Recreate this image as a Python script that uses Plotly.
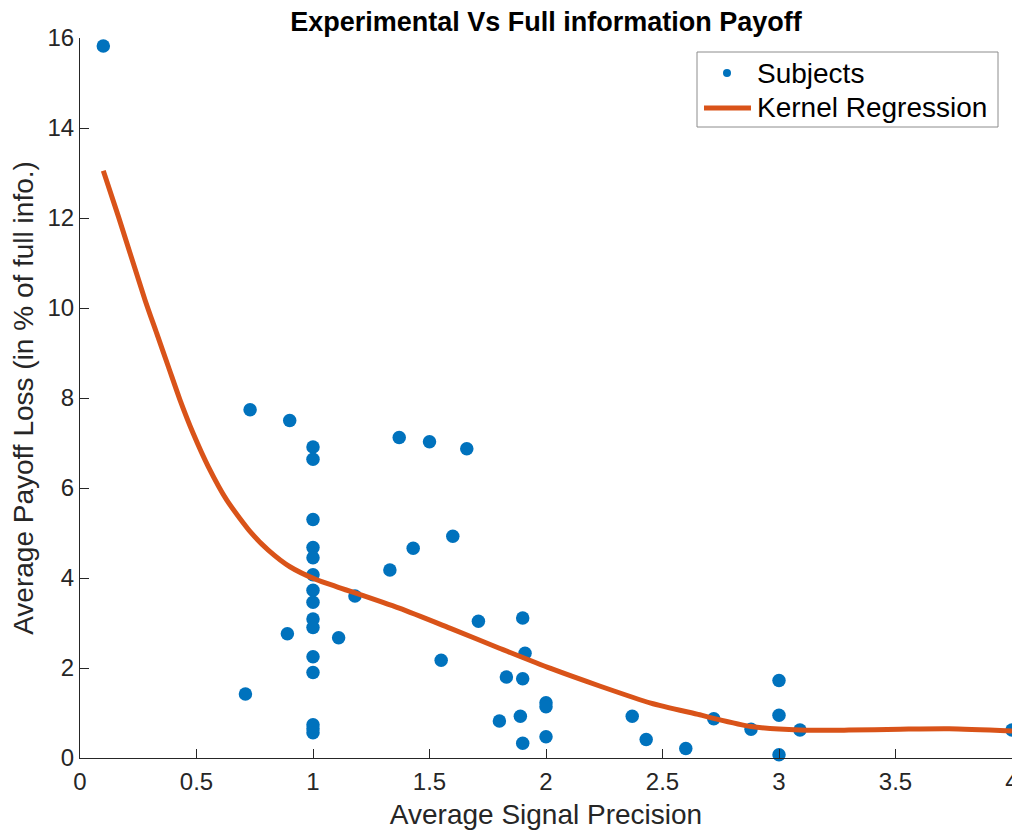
import plotly.graph_objects as go

subjects_x = [0.10, 0.71, 0.73, 0.89, 0.90,
              1.0, 1.0, 1.0, 1.0, 1.0, 1.0, 1.0, 1.0, 1.0, 1.0, 1.0, 1.0, 1.0, 1.0, 1.0,
              1.11, 1.18, 1.33, 1.37, 1.43, 1.50, 1.55, 1.60, 1.66, 1.71,
              1.80, 1.83, 1.89, 1.90, 1.90, 1.90, 1.91, 2.00, 2.00, 2.00,
              2.37, 2.43, 2.60, 2.72, 2.88, 3.00, 3.00, 3.00, 3.09, 4.00]
subjects_y = [15.82, 1.42, 7.74, 2.76, 7.50,
              6.91, 6.64, 5.30, 4.68, 4.45, 4.07, 3.73, 3.46, 3.09, 2.90, 2.25, 1.90, 0.74, 0.65, 0.56,
              2.67, 3.60, 4.18, 7.12, 4.66, 7.03, 2.17, 4.93, 6.87, 3.04,
              0.82, 1.80, 0.93, 3.11, 1.76, 0.33, 2.33, 1.23, 1.14, 0.47,
              0.93, 0.41, 0.21, 0.87, 0.64, 1.72, 0.95, 0.07, 0.62, 0.62]

kernel_x = [0.10, 0.165, 0.279, 0.329, 0.379, 0.429, 0.486, 0.551, 0.630, 0.737, 0.808,
            0.901, 1.016, 1.10, 1.37, 1.59, 1.80, 2.02, 2.23, 2.45, 2.66, 2.72, 2.88,
            3.09, 3.30, 3.52, 3.73, 4.00]
kernel_y = [13.05, 12.03, 10.18, 9.44, 8.70, 7.96, 7.21, 6.47, 5.73, 4.99, 4.62,
            4.25, 3.96, 3.81, 3.33, 2.88, 2.44, 1.99, 1.60, 1.22, 0.96, 0.88, 0.70,
            0.62, 0.62, 0.64, 0.65, 0.60]

x_ticks = [0, 0.5, 1, 1.5, 2, 2.5, 3, 3.5, 4]
x_tick_labels = ["0", "0.5", "1", "1.5", "2", "2.5", "3", "3.5", "4"]
y_ticks = [0, 2, 4, 6, 8, 10, 12, 14, 16]
legend_names = ["Subjects", "Kernel Regression"]

FONT = "Liberation Sans, Arial, Helvetica, sans-serif"
AX = "#262626"
BLUE = "#0072BD"
ORANGE = "#D95319"

# the page body adds an 8px offset, so the figure is sized to end at the window edge
W, H = 1012, 824
ML, MR, MT, MB = 72, 8, 30, 74
PW, PH = W - ML - MR, H - MT - MB


def px_x(p):  # figure pixel -> paper x
    return (p - ML) / PW


def px_y(p):  # figure pixel -> paper y
    return (H - MB - p) / PH


fig = go.Figure()
fig.add_trace(go.Scatter(
    x=subjects_x, y=subjects_y, mode="markers", name=legend_names[0],
    marker=dict(color=BLUE, size=13.5, line=dict(width=0)),
    cliponaxis=False, showlegend=False,
))
fig.add_trace(go.Scatter(
    x=kernel_x, y=kernel_y, mode="lines", name=legend_names[1],
    line=dict(color=ORANGE, width=5, shape="spline", smoothing=0.7),
    cliponaxis=False, showlegend=False,
))

# Legend box drawn by hand (MATLAB style)
shapes = [
    dict(type="rect", xref="paper", yref="paper",
         x0=px_x(689), x1=px_x(990), y0=px_y(119), y1=px_y(44),
         line=dict(color="#8c8c8c", width=1), fillcolor="white", layer="above"),
    dict(type="circle", xref="paper", yref="paper",
         x0=px_x(715), x1=px_x(723), y0=px_y(69), y1=px_y(61),
         line=dict(width=0), fillcolor=BLUE, layer="above"),
    dict(type="line", xref="paper", yref="paper",
         x0=px_x(696), x1=px_x(743), y0=px_y(100), y1=px_y(100),
         line=dict(color=ORANGE, width=5), layer="above"),
]
annotations = [
    dict(text=legend_names[0], xref="paper", yref="paper", x=px_x(747), y=px_y(65),
         xanchor="left", yanchor="middle", showarrow=False,
         font=dict(size=28, color="black", family=FONT)),
    dict(text=legend_names[1], xref="paper", yref="paper", x=px_x(747), y=px_y(100),
         xanchor="left", yanchor="middle", showarrow=False,
         font=dict(size=28, color="black", family=FONT)),
]

fig.update_layout(
    width=W, height=H,
    margin=dict(l=ML, r=MR, t=MT, b=MB),
    paper_bgcolor="white", plot_bgcolor="white",
    font=dict(family=FONT, color=AX),
    title=dict(text="<b>Experimental Vs Full information Payoff</b>",
               x=(ML + PW / 2) / W, xanchor="center",
               y=1 - 4 / H, yanchor="top", pad=dict(t=0, b=0),
               font=dict(size=27, color="black", family=FONT)),
    showlegend=False,
    shapes=shapes,
    annotations=annotations,
)
fig.update_xaxes(
    range=[0, 4], tickvals=x_ticks, ticktext=x_tick_labels, automargin=False,
    showgrid=False, zeroline=False, showline=True, linecolor=AX, linewidth=1,
    ticks="inside", ticklen=9, tickcolor=AX, tickwidth=1,
    tickfont=dict(size=24, color=AX), ticklabelstandoff=2,
    title=dict(text="Average Signal Precision", font=dict(size=28, color=AX), standoff=10),
)
fig.update_yaxes(
    range=[0, 16], tickvals=y_ticks, automargin=False,
    showgrid=False, zeroline=False, showline=True, linecolor=AX, linewidth=1,
    ticks="inside", ticklen=9, tickcolor=AX, tickwidth=1,
    tickfont=dict(size=24, color=AX),
    title=dict(text="Average Payoff Loss (in % of full info.)", font=dict(size=28, color=AX), standoff=6),
)

fig.write_html("out.html")
